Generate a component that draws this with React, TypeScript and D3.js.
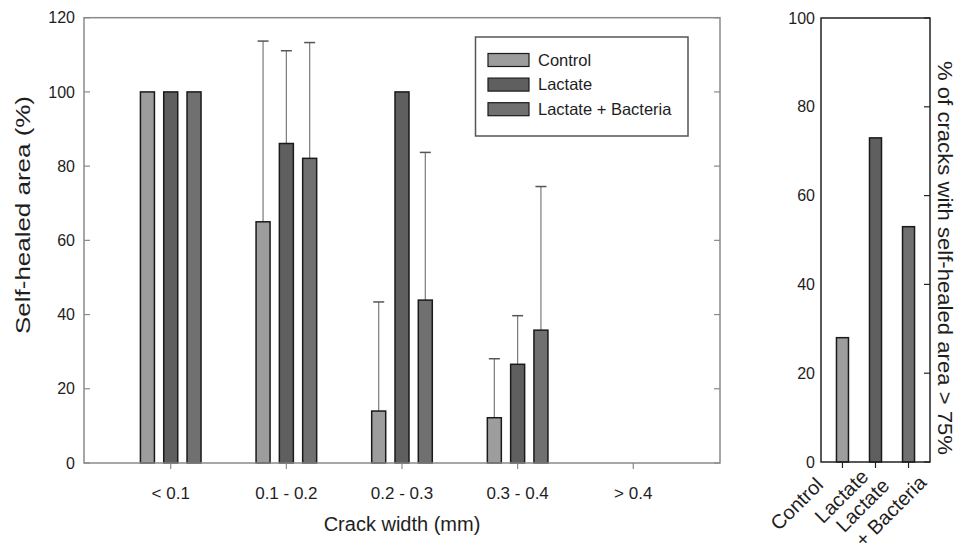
import * as d3 from "d3";
import React, { useEffect, useRef } from "react";

// crack width categories (left panel)
const crackWidths = ["< 0.1", "0.1 - 0.2", "0.2 - 0.3", "0.3 - 0.4", "> 0.4"];
const treatments = ["Control", "Lactate", "Lactate + Bacteria"];

// mean self-healed area (%) and upper error bar length, per crack width
const controlMean = [100, 65, 14, 12.2, null];
const controlErr = [0, 48.7, 29.4, 15.9, 0];
const lactateMean = [100, 86.1, 100, 26.6, null];
const lactateErr = [0, 25, 0, 13.1, 0];
const bacteriaMean = [100, 82.1, 43.9, 35.8, null];
const bacteriaErr = [0, 31.2, 39.8, 38.7, 0];

const leftTicks = [0, 20, 40, 60, 80, 100, 120];

// right panel: % of cracks with self-healed area > 75%
const rightLabels = ["Control", "Lactate", "Lactate + Bacteria"];
const pctAbove75 = [28, 73, 53];
const rightTicks = [0, 20, 40, 60, 80, 100];

const fills = ["#9d9d9d", "#5f5f5f", "#707070"];
const FONT = "'Liberation Sans', Arial, sans-serif";
const AXIS = "#8a8a8a";
const TEXT = "#1e1e1e";

export default function App() {
  const svgRef = useRef<SVGSVGElement | null>(null);

  useEffect(() => {
    if (!svgRef.current) return;
    const svg = d3.select(svgRef.current);
    svg.selectAll("*").remove();
    svg.style("font-family", FONT);

    // ---------- left panel ----------
    const L = { left: 84, right: 720, top: 17.7, bottom: 463 };
    const x = d3.scalePoint<string>().domain(crackWidths).range([L.left, L.right]).padding(0.75);
    const off = d3.scalePoint<string>().domain(treatments).range([-23.3, 23.3]);
    const y = d3.scaleLinear().domain([0, 120]).range([L.bottom, L.top]);
    const barW = 14;

    const series = [
      { name: treatments[0], mean: controlMean, err: controlErr, fill: fills[0] },
      { name: treatments[1], mean: lactateMean, err: lactateErr, fill: fills[1] },
      { name: treatments[2], mean: bacteriaMean, err: bacteriaErr, fill: fills[2] },
    ];

    const gl = svg.append("g");

    // error bars (upper only), drawn behind bars
    series.forEach((s) => {
      const pts = crackWidths
        .map((c, i) => ({ c, m: s.mean[i], e: s.err[i] }))
        .filter((d) => d.m != null && d.e > 0);
      const cx = (d) => (x(d.c) as number) + (off(s.name) as number);
      gl.selectAll(null)
        .data(pts)
        .enter()
        .append("line")
        .attr("x1", cx)
        .attr("x2", cx)
        .attr("y1", (d) => y(d.m as number))
        .attr("y2", (d) => y((d.m as number) + d.e))
        .attr("stroke", "#7a7a7a")
        .attr("stroke-width", 1.2);
      gl.selectAll(null)
        .data(pts)
        .enter()
        .append("line")
        .attr("x1", (d) => cx(d) - 5.5)
        .attr("x2", (d) => cx(d) + 5.5)
        .attr("y1", (d) => y((d.m as number) + d.e))
        .attr("y2", (d) => y((d.m as number) + d.e))
        .attr("stroke", "#555")
        .attr("stroke-width", 1.5);
    });

    series.forEach((s) => {
      const pts = crackWidths
        .map((c, i) => ({ c, m: s.mean[i] }))
        .filter((d) => d.m != null);
      gl.selectAll(null)
        .data(pts)
        .enter()
        .append("rect")
        .attr("x", (d) => (x(d.c) as number) + (off(s.name) as number) - barW / 2)
        .attr("width", barW)
        .attr("y", (d) => y(d.m as number))
        .attr("height", (d) => y(0) - y(d.m as number))
        .attr("fill", s.fill)
        .attr("stroke", "#1a1a1a")
        .attr("stroke-width", 1.5);
    });

    // frame
    gl.append("rect")
      .attr("x", L.left)
      .attr("y", L.top)
      .attr("width", L.right - L.left)
      .attr("height", L.bottom - L.top)
      .attr("fill", "none")
      .attr("stroke", AXIS)
      .attr("stroke-width", 1.5);

    // y ticks (inward on both sides)
    gl.selectAll(null)
      .data(leftTicks)
      .enter()
      .append("line")
      .attr("x1", L.left)
      .attr("x2", L.left + 6)
      .attr("y1", (d) => y(d))
      .attr("y2", (d) => y(d))
      .attr("stroke", AXIS)
      .attr("stroke-width", 1.2);
    gl.selectAll(null)
      .data(leftTicks)
      .enter()
      .append("line")
      .attr("x1", L.right)
      .attr("x2", L.right - 6)
      .attr("y1", (d) => y(d))
      .attr("y2", (d) => y(d))
      .attr("stroke", AXIS)
      .attr("stroke-width", 1.2);
    gl.selectAll(null)
      .data(leftTicks)
      .enter()
      .append("text")
      .attr("x", L.left - 9)
      .attr("y", (d) => y(d))
      .attr("dy", "0.35em")
      .attr("text-anchor", "end")
      .attr("font-size", 16)
      .attr("fill", TEXT)
      .text((d) => d);

    // x ticks (outward)
    gl.selectAll(null)
      .data(crackWidths)
      .enter()
      .append("line")
      .attr("x1", (d) => x(d) as number)
      .attr("x2", (d) => x(d) as number)
      .attr("y1", L.bottom)
      .attr("y2", L.bottom + 6)
      .attr("stroke", AXIS)
      .attr("stroke-width", 1.2);
    gl.selectAll(null)
      .data(crackWidths)
      .enter()
      .append("text")
      .attr("x", (d) => x(d) as number)
      .attr("y", 499)
      .attr("text-anchor", "middle")
      .attr("font-size", 17)
      .attr("fill", TEXT)
      .text((d) => d);

    gl.append("text")
      .attr("x", (L.left + L.right) / 2)
      .attr("y", 531)
      .attr("text-anchor", "middle")
      .attr("font-size", 20)
      .attr("fill", TEXT)
      .text("Crack width (mm)");

    gl.append("text")
      .attr("transform", `translate(30,215) rotate(-90)`)
      .attr("text-anchor", "middle")
      .attr("font-size", 20)
      .attr("textLength", 238)
      .attr("lengthAdjust", "spacingAndGlyphs")
      .attr("fill", TEXT)
      .text("Self-healed area (%)");

    // legend
    const lg = gl.append("g");
    lg.append("rect")
      .attr("x", 475.5)
      .attr("y", 37)
      .attr("width", 212.5)
      .attr("height", 99)
      .attr("fill", "white")
      .attr("stroke", "#555")
      .attr("stroke-width", 1.5);
    series.forEach((s, i) => {
      lg.append("rect")
        .attr("x", 488)
        .attr("y", 53.5 + i * 24.6)
        .attr("width", 41)
        .attr("height", 13)
        .attr("fill", s.fill)
        .attr("stroke", "#1a1a1a")
        .attr("stroke-width", 1.2);
      lg.append("text")
        .attr("x", 538)
        .attr("y", 60 + i * 24.6)
        .attr("dy", "0.35em")
        .attr("font-size", 16.5)
        .attr("fill", TEXT)
        .text(s.name);
    });

    // ---------- right panel ----------
    const R = { left: 821, right: 930, top: 18, bottom: 462 };
    const x2 = d3.scalePoint<string>().domain(rightLabels).range([R.left, R.right]).padding(0.65);
    const y2 = d3.scaleLinear().domain([0, 100]).range([R.bottom, R.top]);
    const barW2 = 12;
    const gr = svg.append("g");

    gr.selectAll(null)
      .data(rightLabels.map((l, i) => ({ l, v: pctAbove75[i], f: fills[i] })))
      .enter()
      .append("rect")
      .attr("x", (d) => (x2(d.l) as number) - barW2 / 2)
      .attr("width", barW2)
      .attr("y", (d) => y2(d.v))
      .attr("height", (d) => y2(0) - y2(d.v))
      .attr("fill", (d) => d.f)
      .attr("stroke", "#1a1a1a")
      .attr("stroke-width", 1.5);

    gr.append("rect")
      .attr("x", R.left)
      .attr("y", R.top)
      .attr("width", R.right - R.left)
      .attr("height", R.bottom - R.top)
      .attr("fill", "none")
      .attr("stroke", "#222")
      .attr("stroke-width", 1.5);

    gr.selectAll(null)
      .data(rightTicks)
      .enter()
      .append("line")
      .attr("x1", R.right)
      .attr("x2", R.right - 6)
      .attr("y1", (d) => y2(d))
      .attr("y2", (d) => y2(d))
      .attr("stroke", "#222")
      .attr("stroke-width", 1.2);
    gr.selectAll(null)
      .data(rightTicks)
      .enter()
      .append("text")
      .attr("x", R.left - 6)
      .attr("y", (d) => y2(d))
      .attr("dy", "0.35em")
      .attr("text-anchor", "end")
      .attr("font-size", 16)
      .attr("fill", TEXT)
      .text((d) => d);

    gr.selectAll(null)
      .data(rightLabels)
      .enter()
      .append("line")
      .attr("x1", (d) => x2(d) as number)
      .attr("x2", (d) => x2(d) as number)
      .attr("y1", R.bottom)
      .attr("y2", R.bottom + 6)
      .attr("stroke", "#222")
      .attr("stroke-width", 1.2);

    // rotated category labels
    const lab = [
      { t: "Control", c: rightLabels[0], dx: -18, dy: 24 },
      { t: "Lactate", c: rightLabels[1], dx: -6, dy: 16 },
      { t: "Lactate", c: rightLabels[2], dx: -18, dy: 25 },
      { t: "+ Bacteria", c: rightLabels[2], dx: 19, dy: 22 },
    ];
    gr.selectAll(null)
      .data(lab)
      .enter()
      .append("text")
      .attr(
        "transform",
        (d) => `translate(${(x2(d.c) as number) + d.dx},${R.bottom + d.dy}) rotate(-45)`,
      )
      .attr("text-anchor", "end")
      .attr("font-size", 20)
      .attr("fill", TEXT)
      .text((d) => d.t);

    gr.append("text")
      .attr("transform", `translate(938,258) rotate(90)`)
      .attr("text-anchor", "middle")
      .attr("font-size", 20)
      .attr("textLength", 394)
      .attr("lengthAdjust", "spacingAndGlyphs")
      .attr("fill", TEXT)
      .text("% of cracks with self-healed area > 75%");
  }, []);

  return (
    <svg
      ref={svgRef}
      width={958}
      height={556}
      style={{ position: "absolute", left: 0, top: 0, background: "white" }}
    />
  );
}
